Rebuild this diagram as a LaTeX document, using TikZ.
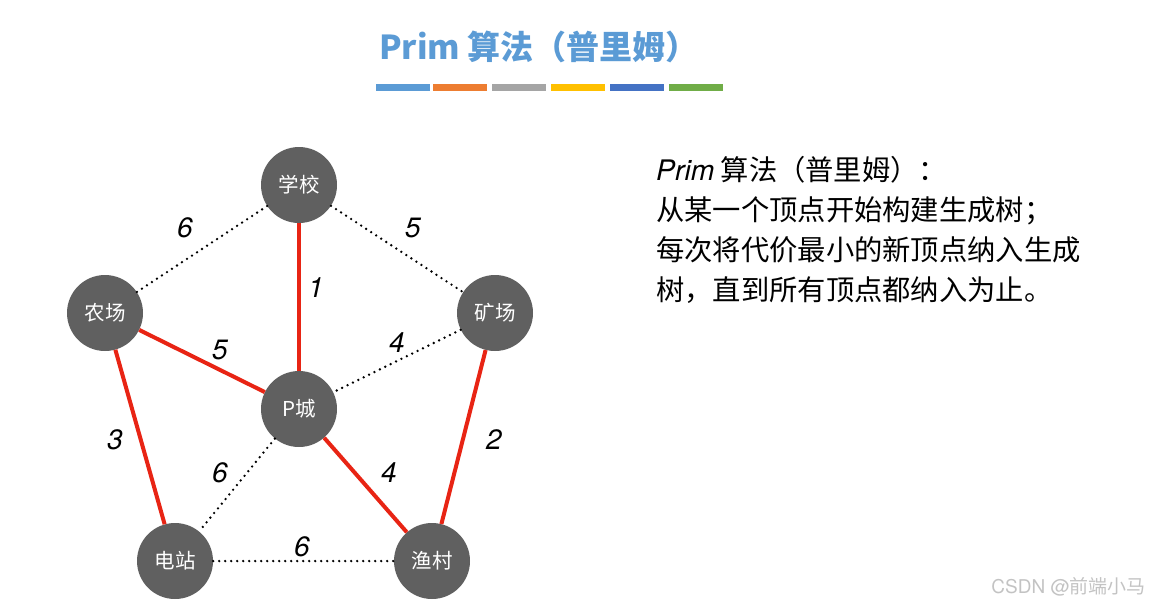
\documentclass[tikz,border=0pt]{standalone}
\usepackage{fontspec}
\setmainfont{TeX Gyre Heros}
\newfontfamily\cjk{Noto Sans CJK SC}
\definecolor{nodegray}{RGB}{96,96,96}
\definecolor{mstred}{RGB}{232,36,20}
\definecolor{titleblue}{RGB}{91,155,213}
\definecolor{barA}{RGB}{91,155,213}
\definecolor{barB}{RGB}{237,125,49}
\definecolor{barC}{RGB}{165,165,165}
\definecolor{barD}{RGB}{255,192,0}
\definecolor{barE}{RGB}{68,114,196}
\definecolor{barF}{RGB}{112,173,71}
\definecolor{wmgray}{RGB}{195,195,195}
\begin{document}
\begin{tikzpicture}[x=1pt,y=-1pt,
  city/.style={circle, fill=nodegray, minimum size=76pt, inner sep=0pt, text=white, font=\cjk\fontsize{20.5}{24}\selectfont},
  mst/.style={draw=mstred, line width=4pt},
  alt/.style={draw=black, line width=2.6pt, line cap=round, dash pattern=on 0pt off 6pt},
  wt/.style={font=\itshape\fontsize{28}{30}\selectfont, inner sep=0pt},
  bar/.style={minimum width=54pt, minimum height=7pt, inner sep=0pt, anchor=west}]
\useasboundingbox (0,0) rectangle (1151,606);
% title
\node[text=titleblue, font=\cjk\bfseries\fontsize{33}{36}\selectfont, inner sep=0pt] (title) at (539,47) {Prim 算法（普里姆）};
\node[bar, fill=barA] (b1) at (376,87) {};
\node[bar, fill=barB] (b2) at (433,87) {};
\node[bar, fill=barC] (b3) at (492,87) {};
\node[bar, fill=barD] (b4) at (551,87) {};
\node[bar, fill=barE] (b5) at (610,87) {};
\node[bar, fill=barF] (b6) at (669,87) {};
% nodes
\node[city] (school) at (299,185) {学校};
\node[city] (farm) at (105,313) {农场};
\node[city] (mine) at (495,313) {矿场};
\node[city] (pcity) at (299,409) {P城};
\node[city] (power) at (175,561) {电站};
\node[city] (fish) at (432,561) {渔村};
% edges
\draw[alt] (school) -- (farm);
\draw[alt] (school) -- (mine);
\draw[alt] (mine) -- (pcity);
\draw[alt] (pcity) -- (power);
\draw[alt] (power) -- (fish);
\draw[mst] (school) -- (pcity);
\draw[mst] (farm) -- (pcity);
\draw[mst] (farm) -- (power);
\draw[mst] (mine) -- (fish);
\draw[mst] (pcity) -- (fish);
% weights
\node[wt] (w1) at (185,228) {6};
\node[wt] (w2) at (413,228) {5};
\node[wt] (w3) at (316,288) {1};
\node[wt] (w4) at (220,350) {5};
\node[wt] (w5) at (397,343) {4};
\node[wt] (w6) at (115,440) {3};
\node[wt] (w7) at (494,440) {2};
\node[wt] (w8) at (220,473) {6};
\node[wt] (w9) at (389,473) {4};
\node[wt] (w10) at (302,547) {6};
% description
\node[anchor=north west, align=left, inner sep=0pt, font=\cjk\fontsize{28.3}{40}\selectfont] (desc) at (656,156)
 {{\rmfamily\itshape Prim} 算法（普里姆）：\\从某一个顶点开始构建生成树；\\每次将代价最小的新顶点纳入生成\\树，直到所有顶点都纳入为止。};
% watermark
\node[text=wmgray, font=\fontsize{19}{22}\selectfont, anchor=east, inner sep=0pt] (wm) at (1146,587) {CSDN @{\cjk 前端小马}};
\end{tikzpicture}
\end{document}
